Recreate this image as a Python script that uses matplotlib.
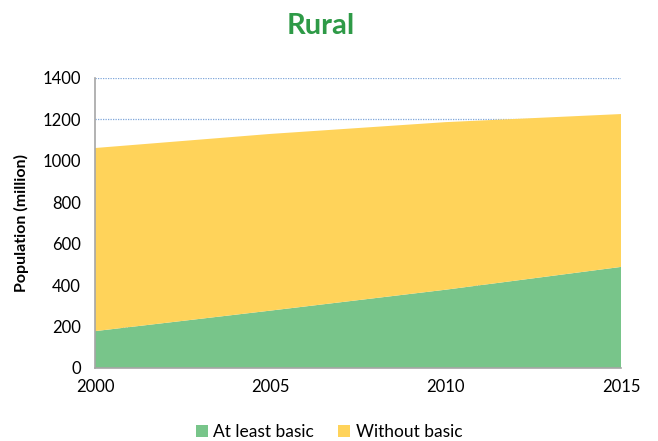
import matplotlib
matplotlib.use("Agg")
import matplotlib.pyplot as plt
import numpy as np

years = [2000, 2005, 2010, 2015]
at_least_basic = [178, 277, 378, 488]
without_basic = [884, 853, 809, 738]
labels = ["At least basic", "Without basic"]
colors = ["#78C58A", "#FFD35A"]

plt.rcParams['font.family'] = ['Lato', 'DejaVu Sans']

fig = plt.figure(figsize=(6.58, 4.41), dpi=100)
ax = fig.add_axes([95/658, 1 - 368/441, (621-95)/658, (368-78)/441])

ax.stackplot(years, at_least_basic, without_basic, colors=colors, labels=labels, zorder=2)

ax.set_xlim(2000, 2015)
ax.set_ylim(0, 1400)
ax.set_xticks([2000, 2005, 2010, 2015])
ax.set_yticks(range(0, 1401, 200))
ax.yaxis.grid(True, linestyle=(0, (1, 1)), color="#7FA6DA", linewidth=0.9, zorder=0)
ax.set_axisbelow(True)

for s in ["top", "right"]:
    ax.spines[s].set_visible(False)
for s in ["left", "bottom"]:
    ax.spines[s].set_color("#A6A6A6")
    ax.spines[s].set_linewidth(1.2)
    ax.spines[s].set_zorder(3)

ax.tick_params(axis="both", length=0, labelsize=12, colors="black")
ax.tick_params(axis="x", pad=8)
ax.tick_params(axis="y", pad=10)

ax.set_ylabel("Population (million)", fontsize=11.5, fontweight="bold", labelpad=10)

fig.text(321/658, 1 - 26/441, "Rural", ha="center", va="center", fontsize=21, fontweight="bold", color="#2E9A47")

fig.legend(*ax.get_legend_handles_labels(), loc="center", bbox_to_anchor=(329/658, 1 - 432/441), ncol=2,
           frameon=False, fontsize=12.5, handlelength=0.7, handleheight=0.7, handletextpad=0.3,
           columnspacing=1.4)

fig.savefig("out.png", dpi=100)
